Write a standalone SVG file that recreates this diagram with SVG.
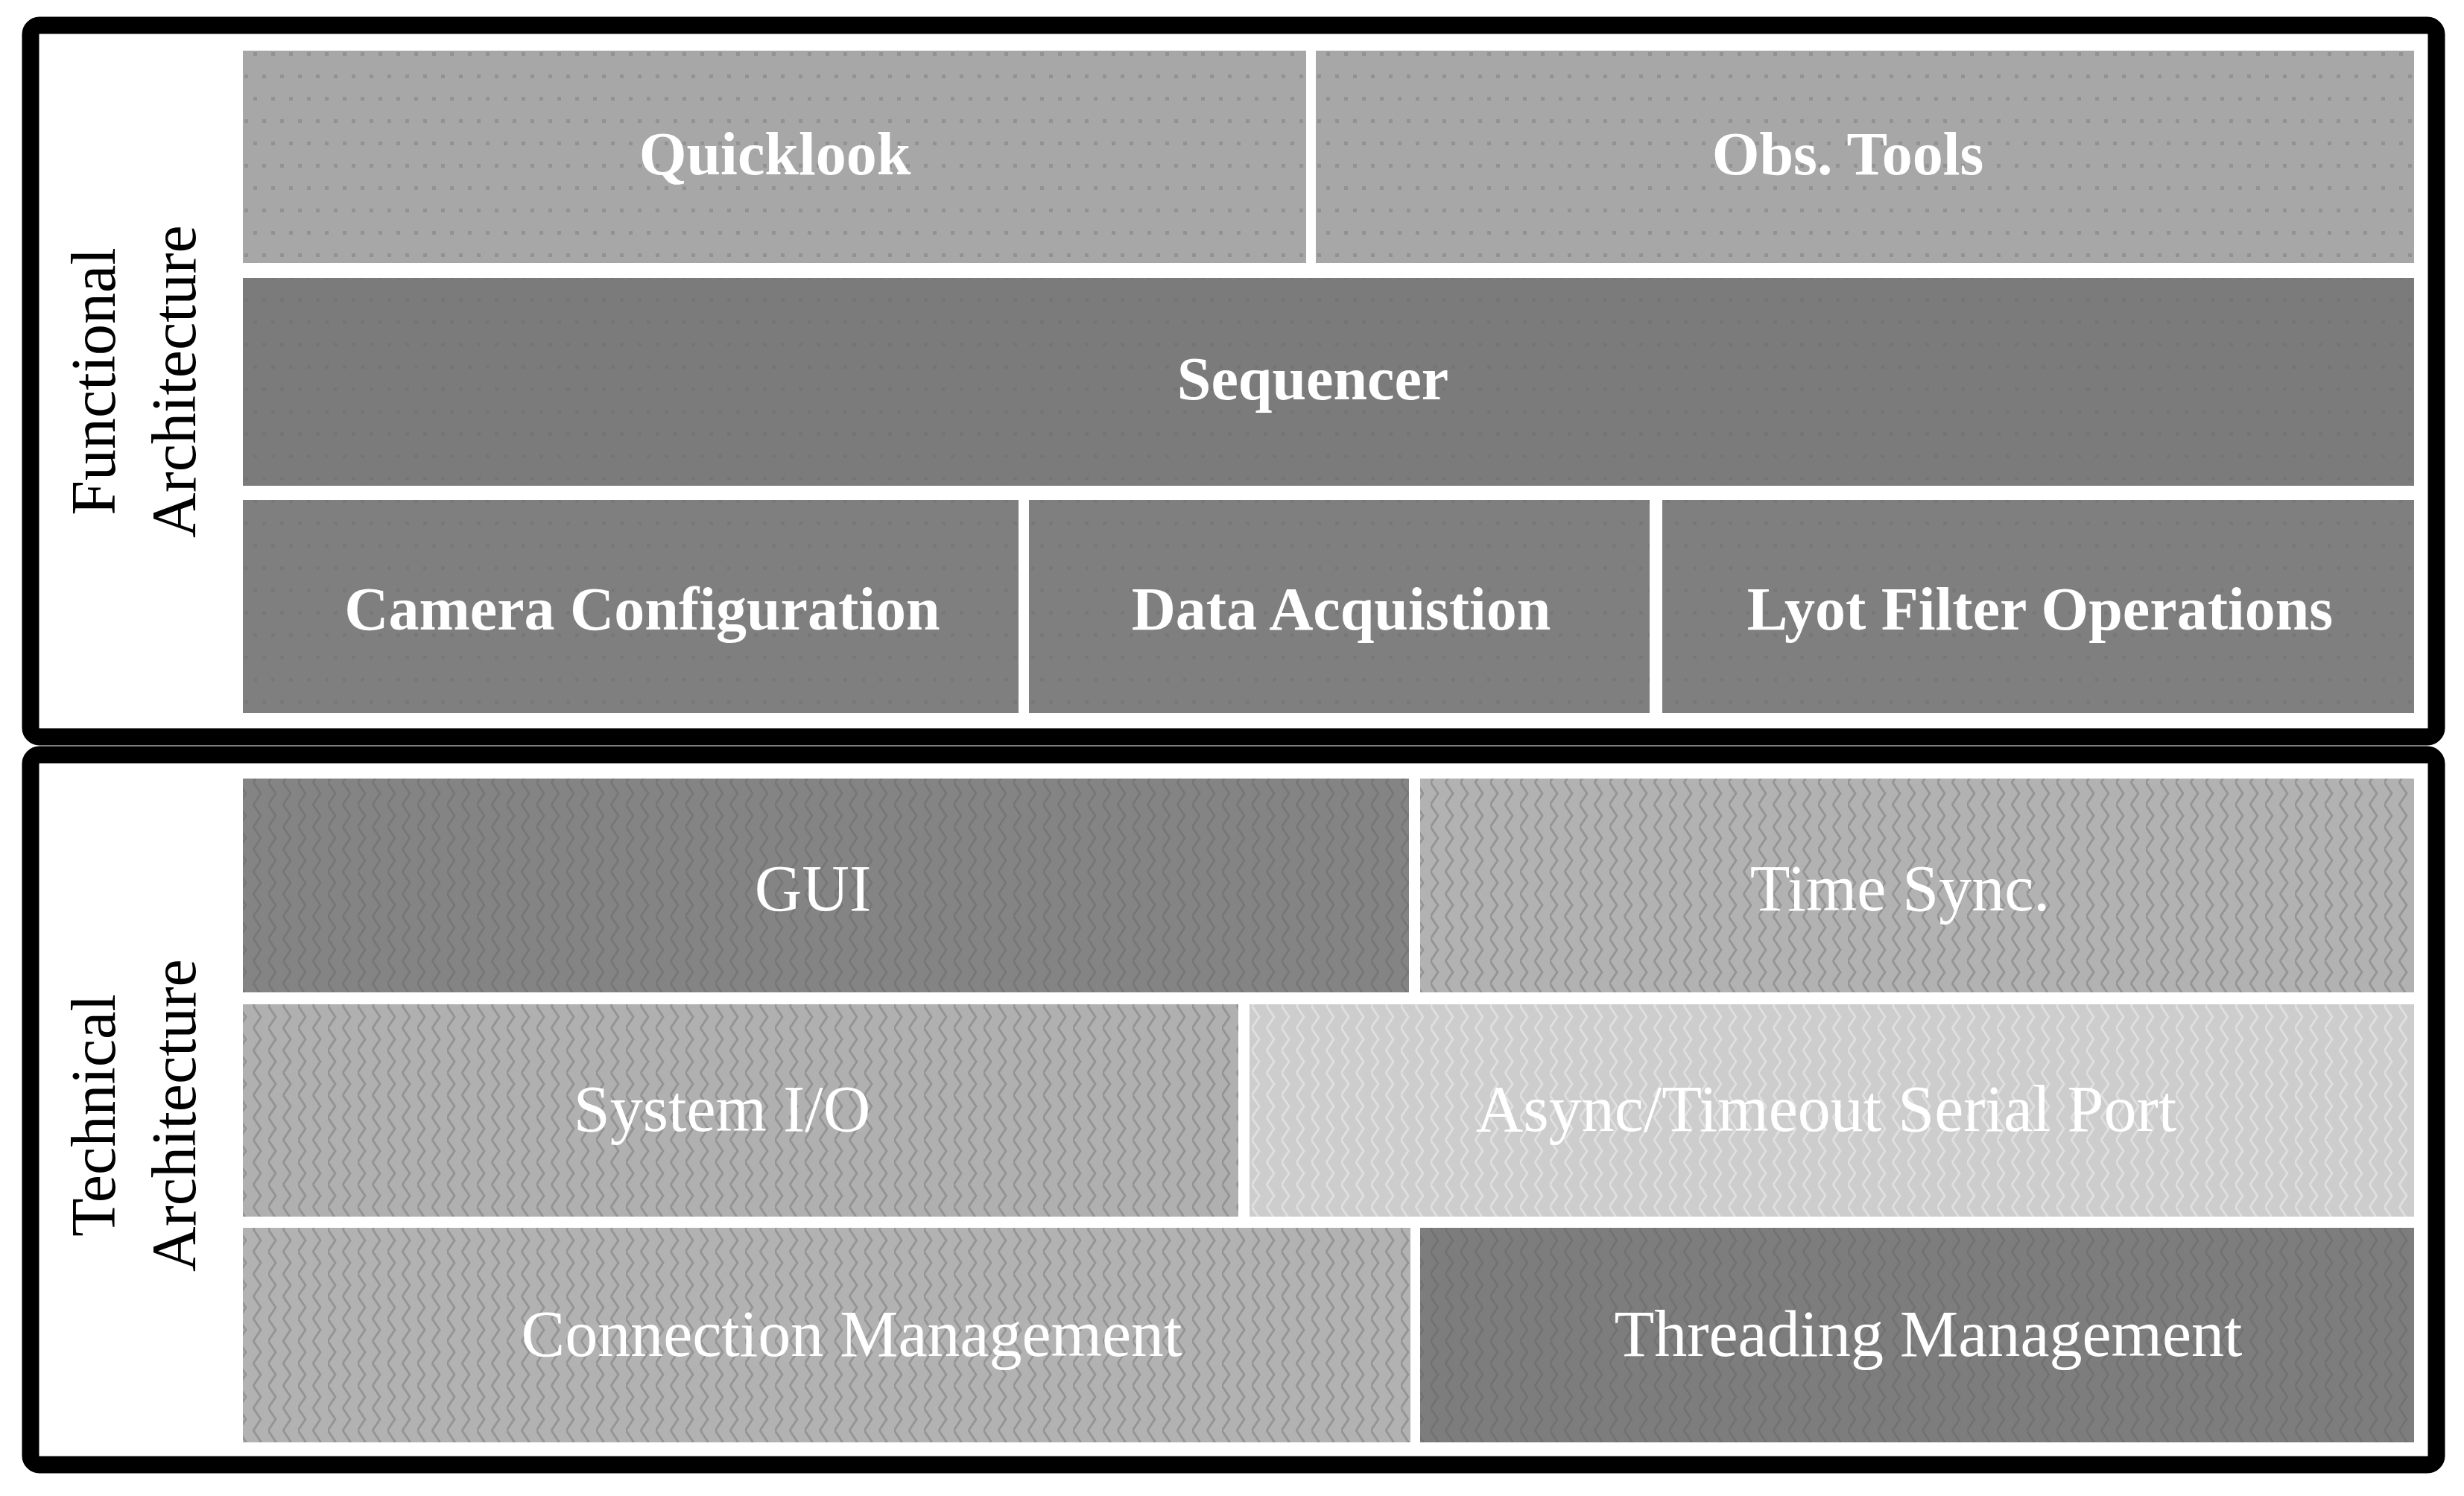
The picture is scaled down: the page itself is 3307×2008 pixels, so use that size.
<svg xmlns="http://www.w3.org/2000/svg" width="3307" height="2008" viewBox="0 0 3307 2008">
<style>
.frame{fill:#fff;stroke:#000;stroke-width:23}
.lbl{font-family:"Liberation Serif","Times New Roman",serif;font-size:88px;fill:#fff;text-anchor:middle}
.lbb{font-family:"Liberation Serif","Times New Roman",serif;font-size:82px;font-weight:bold;fill:#fff;text-anchor:middle}
.side{font-family:"Liberation Serif","Times New Roman",serif;font-size:84px;fill:#000;text-anchor:middle}
.c1{fill:#a7a7a7}
.c2{fill:#7b7b7b}
.c3{fill:#7f7f7f}
.gui{fill:#848484}
.ts{fill:#b2b2b2}
.sio{fill:#b0b0b0}
.asy{fill:#cdcdcd}
.cm{fill:#b2b2b2}
.tm{fill:#7d7d7d}
.tex{opacity:0.35}
</style>
<defs>
<pattern id="dots" width="24" height="60" patternUnits="userSpaceOnUse">
<rect x="4" y="10" width="5" height="5" fill="#6a6a6a"/>
<rect x="16" y="40" width="5" height="5" fill="#6a6a6a"/>
</pattern>
<pattern id="zig" width="40" height="30" patternUnits="userSpaceOnUse">
<path d="M0 0 L10 15 L0 30 M20 0 L30 15 L20 30" fill="none" stroke="#5f5f5f" stroke-width="3"/>
</pattern>
<pattern id="zigl" width="40" height="30" patternUnits="userSpaceOnUse">
<path d="M0 0 L10 15 L0 30 M20 0 L30 15 L20 30" fill="none" stroke="#ffffff" stroke-width="3"/>
</pattern>
</defs>
<rect width="3307" height="2008" fill="#fff"/>
<g id="functional-frame">
<rect class="frame" x="41" y="34" width="3229" height="955" rx="12"/>
<text class="side" transform="translate(154,512) rotate(-90)">Functional</text>
<text class="side" transform="translate(262,512) rotate(-90)">Architecture</text>
</g>
<g id="technical-frame">
<rect class="frame" x="41" y="1013" width="3229" height="953" rx="12"/>
<text class="side" transform="translate(154,1497) rotate(-90)">Technical</text>
<text class="side" transform="translate(262,1497) rotate(-90)">Architecture</text>
</g>
<g id="quicklook"><rect class="c1" x="326" y="68" width="1427" height="285"/><rect class="tex" fill="url(#dots)" x="326" y="68" width="1427" height="285"/><text class="lbb" x="1040" y="234">Quicklook</text></g>
<g id="obs-tools"><rect class="c1" x="1766" y="68" width="1474" height="285"/><rect class="tex" fill="url(#dots)" x="1766" y="68" width="1474" height="285"/><text class="lbb" x="2480" y="234">Obs. Tools</text></g>
<g id="sequencer"><rect class="c2" x="326" y="373" width="2914" height="279"/><rect class="tex" fill="url(#dots)" x="326" y="373" width="2914" height="279"/><text class="lbb" x="1762" y="536">Sequencer</text></g>
<g id="camera-configuration"><rect class="c3" x="326" y="671" width="1041" height="286"/><rect class="tex" fill="url(#dots)" x="326" y="671" width="1041" height="286"/><text class="lbb" x="862" y="845">Camera Configuration</text></g>
<g id="data-acquistion"><rect class="c3" x="1381" y="671" width="833" height="286"/><rect class="tex" fill="url(#dots)" x="1381" y="671" width="833" height="286"/><text class="lbb" x="1800" y="845">Data Acquistion</text></g>
<g id="lyot-filter-operations"><rect class="c3" x="2231" y="671" width="1009" height="286"/><rect class="tex" fill="url(#dots)" x="2231" y="671" width="1009" height="286"/><text class="lbb" x="2738" y="845">Lyot Filter Operations</text></g>
<g id="gui"><rect class="gui" x="326" y="1045" width="1565" height="287"/><rect class="tex" fill="url(#zig)" x="326" y="1045" width="1565" height="287"/><text class="lbl" x="1091" y="1222">GUI</text></g>
<g id="time-sync"><rect class="ts" x="1906" y="1045" width="1334" height="287"/><rect class="tex" fill="url(#zig)" x="1906" y="1045" width="1334" height="287"/><text class="lbl" x="2550" y="1222">Time Sync.</text></g>
<g id="system-io"><rect class="sio" x="326" y="1348" width="1336" height="285"/><rect class="tex" fill="url(#zig)" x="326" y="1348" width="1336" height="285"/><text class="lbl" x="969" y="1518">System I/O</text></g>
<g id="async-serial-port"><rect class="asy" x="1677" y="1348" width="1563" height="285"/><rect class="tex" fill="url(#zigl)" x="1677" y="1348" width="1563" height="285"/><text class="lbl" x="2451" y="1518">Async/Timeout Serial Port</text></g>
<g id="connection-management"><rect class="cm" x="326" y="1648" width="1567" height="288"/><rect class="tex" fill="url(#zig)" x="326" y="1648" width="1567" height="288"/><text class="lbl" x="1143" y="1820">Connection Management</text></g>
<g id="threading-management"><rect class="tm" x="1906" y="1648" width="1334" height="288"/><rect class="tex" fill="url(#zig)" x="1906" y="1648" width="1334" height="288"/><text class="lbl" x="2588" y="1820">Threading Management</text></g>
<g id="connectors"></g>
</svg>
